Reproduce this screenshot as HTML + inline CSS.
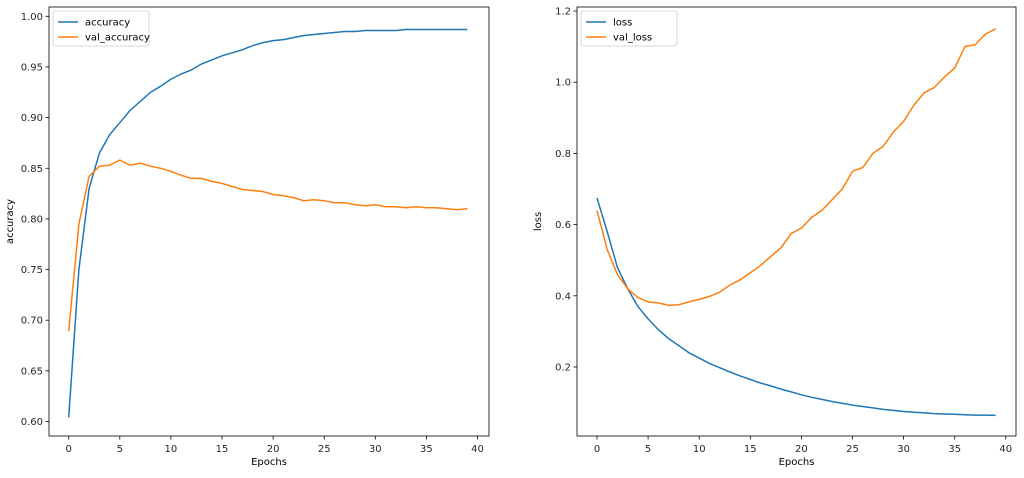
<!DOCTYPE html>
<html><head><meta charset="utf-8"><style>
body{margin:0;background:#fff;width:1024px;height:473px;overflow:hidden}
svg{font-family:"DejaVu Sans","Liberation Sans",sans-serif}
</style></head><body>
<svg id="s" width="1024" height="473" xmlns="http://www.w3.org/2000/svg"></svg>
<script>
const acc=[0.604,0.75,0.83,0.865,0.883,0.895,0.907,0.916,0.925,0.931,0.938,0.943,0.947,0.953,0.957,0.961,0.964,0.967,0.971,0.974,0.976,0.977,0.979,0.981,0.982,0.983,0.984,0.985,0.985,0.986,0.986,0.986,0.986,0.987,0.987,0.987,0.987,0.987,0.987,0.987];
const vacc=[0.689,0.795,0.842,0.852,0.853,0.858,0.853,0.855,0.852,0.850,0.847,0.843,0.840,0.840,0.837,0.835,0.832,0.829,0.828,0.827,0.824,0.823,0.821,0.818,0.819,0.818,0.816,0.816,0.814,0.813,0.814,0.812,0.812,0.811,0.812,0.811,0.811,0.810,0.809,0.810];
const loss=[0.675,0.58,0.48,0.42,0.37,0.335,0.305,0.28,0.26,0.24,0.225,0.21,0.198,0.186,0.175,0.165,0.155,0.147,0.138,0.13,0.122,0.115,0.109,0.103,0.098,0.093,0.089,0.085,0.081,0.078,0.075,0.073,0.071,0.069,0.068,0.067,0.066,0.065,0.065,0.064];
const vloss=[0.64,0.53,0.46,0.42,0.395,0.383,0.38,0.373,0.375,0.383,0.39,0.398,0.41,0.43,0.445,0.465,0.485,0.51,0.535,0.575,0.59,0.62,0.64,0.67,0.70,0.75,0.76,0.80,0.82,0.86,0.89,0.935,0.97,0.985,1.015,1.04,1.10,1.105,1.135,1.15];
let h='';
function panel(L,R,T,B,x0,yf,yt,ylab,series,names,yl){
  h+=`<rect x="${L}" y="${T}" width="${R-L}" height="${B-T}" fill="none" stroke="#000" stroke-width="0.8"/>`;
  for(let e=0;e<=40;e+=5){const x=x0+10.22*e;
    h+=`<line x1="${x}" y1="${B}" x2="${x}" y2="${B+3.5}" stroke="#000" stroke-width="0.8"/><text x="${x}" y="${B+16}" font-size="10" text-anchor="middle" fill="#262626">${e}</text>`;}
  yt.forEach(v=>{const y=yf(v);h+=`<line x1="${L-3.5}" y1="${y}" x2="${L}" y2="${y}" stroke="#000" stroke-width="0.8"/><text x="${L-6}" y="${y+3.5}" font-size="10" text-anchor="end" fill="#262626">${yl(v)}</text>`;});
  h+=`<text x="${(L+R)/2}" y="${B+29}" font-size="10" text-anchor="middle">Epochs</text>`;
  h+=`<text transform="translate(${L-36},${(T+B)/2}) rotate(-90)" font-size="10" text-anchor="middle">${ylab}</text>`;
  const cols=['#1f77b4','#ff7f0e'];
  series.forEach((d,i)=>{h+=`<polyline fill="none" stroke="${cols[i]}" stroke-width="1.5" points="${d.map((v,e)=>(x0+10.22*e).toFixed(1)+','+yf(v).toFixed(1)).join(' ')}"/>`;});
  const w=names[1].length>7?96:70;
  h+=`<rect x="${L+4}" y="${T+4}" width="${w}" height="35" rx="2" fill="#fff" stroke="#ccc" stroke-width="0.8"/>`;
  names.forEach((n,i)=>{const y=T+15+i*15;h+=`<line x1="${L+9}" y1="${y}" x2="${L+29}" y2="${y}" stroke="${cols[i]}" stroke-width="1.5"/><text x="${L+36}" y="${y+3.5}" font-size="10">${n}</text>`;});
}
panel(49,489,7,436,68.7,v=>421.5-(v-0.6)*1013,[0.6,0.65,0.7,0.75,0.8,0.85,0.9,0.95,1.0],'accuracy',[acc,vacc],['accuracy','val_accuracy'],v=>v.toFixed(2));
panel(577,1016,7,436,597,v=>367-(v-0.2)*356,[0.2,0.4,0.6,0.8,1.0,1.2],'loss',[loss,vloss],['loss','val_loss'],v=>v.toFixed(1));
document.getElementById('s').innerHTML=h;
</script>
</body></html>
